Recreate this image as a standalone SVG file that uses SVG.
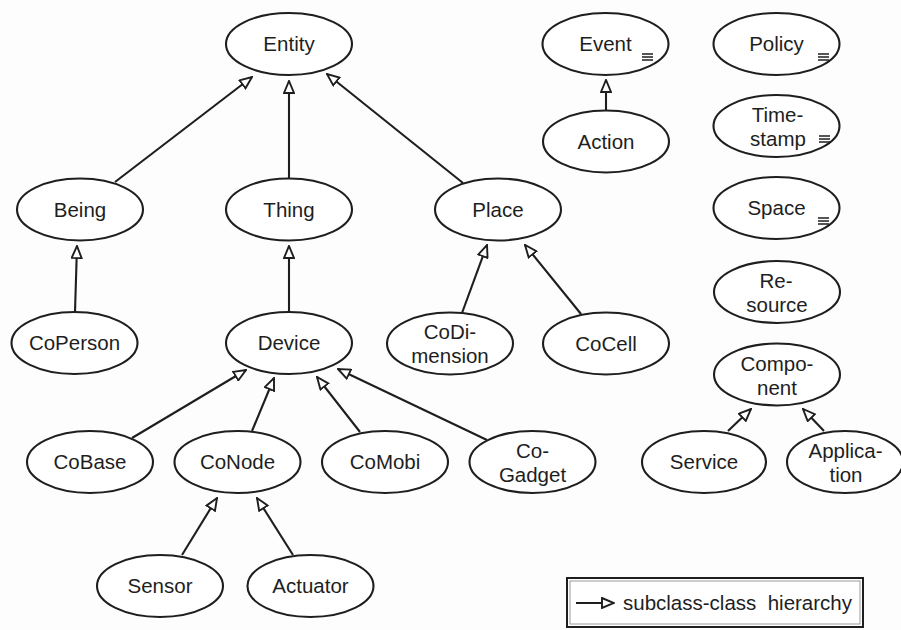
<svg xmlns="http://www.w3.org/2000/svg" width="901" height="630" viewBox="0 0 901 630">
<style>
  .bg { fill: #fdfdfd; }
  .node ellipse { fill: #ffffff; stroke: #1e1e1e; stroke-width: 2.1; }
  .node text { font-family: "Liberation Sans", Arial, Helvetica, sans-serif; font-size: 20.5px; fill: #1e1e1e; text-anchor: middle; }
  .icon line { stroke: #1e1e1e; stroke-width: 1.5; }
  .edges line { stroke: #1e1e1e; stroke-width: 2.1; marker-end: url(#tri); }
  .legend text { font-family: "Liberation Sans", Arial, Helvetica, sans-serif; font-size: 20.5px; fill: #1e1e1e; white-space: pre; }
</style>
<defs>
  <marker id="tri" viewBox="0 0 14 12" refX="13" refY="6" markerWidth="14" markerHeight="12" markerUnits="userSpaceOnUse" orient="auto">
    <path d="M1,1 L13,6 L1,11 Z" fill="#ffffff" stroke="#1e1e1e" stroke-width="1.9" stroke-linejoin="miter"/>
  </marker>
</defs>
<rect class="bg" x="0" y="0" width="901" height="630"/>

<g id="connectors" class="edges">
  <line x1="115" y1="182" x2="252" y2="77"/>
  <line x1="289" y1="178" x2="289" y2="81"/>
  <line x1="463" y1="183" x2="327" y2="74"/>
  <line x1="75" y1="312" x2="77" y2="246"/>
  <line x1="289" y1="312" x2="289" y2="246"/>
  <line x1="462" y1="313" x2="487" y2="245"/>
  <line x1="581" y1="314" x2="525" y2="245"/>
  <line x1="132" y1="438" x2="246" y2="370"/>
  <line x1="252" y1="431" x2="274" y2="378"/>
  <line x1="360" y1="432" x2="317" y2="377"/>
  <line x1="487" y1="440" x2="338" y2="369"/>
  <line x1="182" y1="555" x2="217" y2="498"/>
  <line x1="293" y1="555" x2="257" y2="498"/>
  <line x1="606" y1="110" x2="606" y2="80"/>
  <line x1="728" y1="431" x2="751" y2="409"/>
  <line x1="824" y1="431" x2="803" y2="409"/>
</g>

<g id="entity" class="node"><ellipse cx="289" cy="44" rx="63" ry="31"/><text x="289" y="51">Entity</text></g>
<g id="being" class="node"><ellipse cx="80" cy="209.5" rx="63" ry="31"/><text x="80" y="216.5">Being</text></g>
<g id="thing" class="node"><ellipse cx="289" cy="209.5" rx="63" ry="31"/><text x="289" y="216.5">Thing</text></g>
<g id="place" class="node"><ellipse cx="498" cy="209.5" rx="63" ry="31"/><text x="498" y="216.5">Place</text></g>
<g id="coperson" class="node"><ellipse cx="74.5" cy="343" rx="63" ry="31"/><text x="74.5" y="350">CoPerson</text></g>
<g id="device" class="node"><ellipse cx="289" cy="343" rx="63" ry="31"/><text x="289" y="350">Device</text></g>
<g id="codimension" class="node"><ellipse cx="450" cy="343.5" rx="63" ry="31"/><text x="450" y="339">CoDi-</text><text x="450" y="363">mension</text></g>
<g id="cocell" class="node"><ellipse cx="606" cy="343.5" rx="63" ry="31"/><text x="606" y="350.5">CoCell</text></g>
<g id="cobase" class="node"><ellipse cx="90" cy="462" rx="63" ry="31"/><text x="90" y="469">CoBase</text></g>
<g id="conode" class="node"><ellipse cx="237.5" cy="462" rx="63" ry="31"/><text x="237.5" y="469">CoNode</text></g>
<g id="comobi" class="node"><ellipse cx="385" cy="462" rx="63" ry="31"/><text x="385" y="469">CoMobi</text></g>
<g id="cogadget" class="node"><ellipse cx="532.5" cy="462" rx="63" ry="31"/><text x="532.5" y="458">Co-</text><text x="532.5" y="482">Gadget</text></g>
<g id="sensor" class="node"><ellipse cx="160" cy="586" rx="63" ry="31"/><text x="160" y="593">Sensor</text></g>
<g id="actuator" class="node"><ellipse cx="310.5" cy="586" rx="63" ry="31"/><text x="310.5" y="593">Actuator</text></g>

<g id="event" class="node"><ellipse cx="605.5" cy="44" rx="63" ry="31"/><text x="605.5" y="51">Event</text>
  <g class="icon"><line x1="642" y1="54" x2="653" y2="54"/><line x1="642" y1="57" x2="653" y2="57"/><line x1="642" y1="60" x2="653" y2="60"/></g></g>
<g id="action" class="node"><ellipse cx="606" cy="141.5" rx="63" ry="31"/><text x="606" y="148.5">Action</text></g>
<g id="policy" class="node"><ellipse cx="776.5" cy="44" rx="63" ry="31"/><text x="776.5" y="51">Policy</text>
  <g class="icon"><line x1="818" y1="54" x2="829" y2="54"/><line x1="818" y1="57" x2="829" y2="57"/><line x1="818" y1="60" x2="829" y2="60"/></g></g>
<g id="timestamp" class="node"><ellipse cx="776.5" cy="126" rx="63" ry="31"/><text x="777.5" y="122">Time-</text><text x="778" y="146">stamp</text>
  <g class="icon"><line x1="819" y1="136" x2="830" y2="136"/><line x1="819" y1="139" x2="830" y2="139"/><line x1="819" y1="142" x2="830" y2="142"/></g></g>
<g id="space" class="node"><ellipse cx="776.5" cy="208" rx="63" ry="31"/><text x="776.5" y="215">Space</text>
  <g class="icon"><line x1="818" y1="218" x2="829" y2="218"/><line x1="818" y1="221" x2="829" y2="221"/><line x1="818" y1="224" x2="829" y2="224"/></g></g>
<g id="resource" class="node"><ellipse cx="777" cy="292" rx="63" ry="31"/><text x="776" y="288">Re-</text><text x="777" y="312">source</text></g>
<g id="component" class="node"><ellipse cx="777" cy="374.5" rx="63" ry="31"/><text x="777" y="371">Compo-</text><text x="777" y="395">nent</text></g>
<g id="service" class="node"><ellipse cx="704" cy="462" rx="62" ry="31"/><text x="704" y="469">Service</text></g>
<g id="application" class="node"><ellipse cx="845" cy="462" rx="58" ry="31"/><text x="845.5" y="458">Applica-</text><text x="846" y="482">tion</text></g>

<g id="legend" class="legend">
  <rect x="567" y="578" width="296" height="49" fill="#ffffff" stroke="#1e1e1e" stroke-width="2"/>
  <rect x="570" y="581" width="290" height="43" fill="none" stroke="#9a9a9a" stroke-width="1"/>
  <line x1="576" y1="603" x2="614" y2="603" stroke="#1e1e1e" stroke-width="2" marker-end="url(#tri)"/>
  <text x="623" y="610">subclass-class  hierarchy</text>
</g>
</svg>
